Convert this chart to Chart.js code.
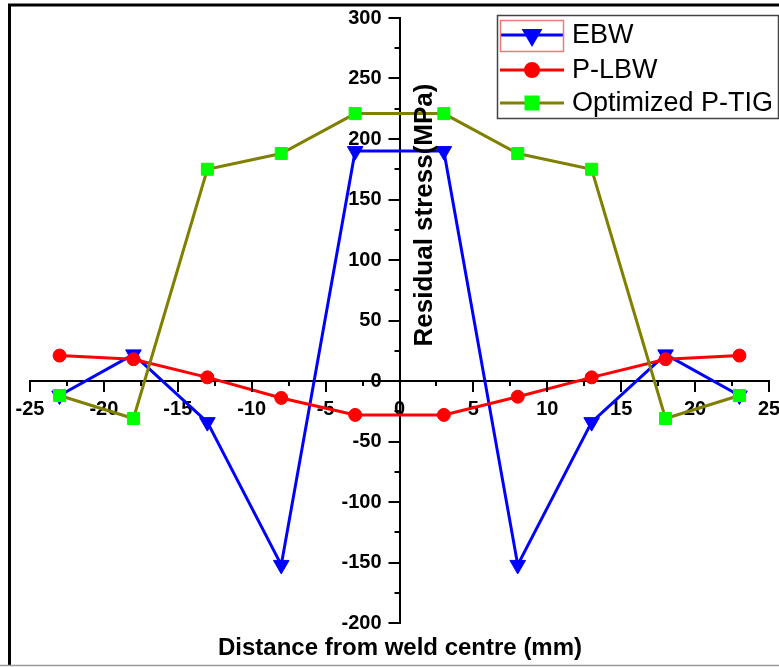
<!DOCTYPE html>
<html>
<head>
<meta charset="utf-8">
<title>Residual stress</title>
<script src="https://cdn.jsdelivr.net/npm/chart.js@4.4.1/dist/chart.umd.min.js"></script>
<style>
  html, body { margin: 0; padding: 0; background: #fff; overflow: hidden; }
  #wrap { position: absolute; left: 0; top: 0; width: 779px; height: 667px; }
</style>
</head>
<body>
<div id="wrap"><canvas id="stressChart" width="779" height="667"></canvas></div>
<script>
// distance from weld centre (mm)
const distances = [-23, -18, -13, -8, -3, 3, 8, 13, 18, 23];

// residual stress (MPa)
const ebwStress = [-12, 22, -34, -152, 190, 190, -152, -34, 22, -12];
const plbwStress = [21, 18, 3, -14, -28, -28, -13, 3, 18, 21];
const ptigStress = [-12, -31, 175, 188, 221, 221, 188, 175, -31, -12];

const seriesNames = ["EBW", "P-LBW", "Optimized P-TIG"];
const xTitle = "Distance from weld centre (mm)";
const yTitle = "Residual stress(MPa)";

function toPoints(values) {
  return distances.map((d, i) => ({ x: d, y: values[i] }));
}

const fontFamily = "'Liberation Sans', Arial, sans-serif";

// cadre, titres, graduations et légende
const decorPlugin = {
  id: "decor",
  afterDraw(chart) {
    const ctx = chart.ctx;
    const xs = chart.scales.x;
    const ys = chart.scales.y;
    const x0 = xs.getPixelForValue(0);
    const y0 = ys.getPixelForValue(0);

    ctx.save();

    // graduations de l'axe x (majeures 5, mineures 2.5)
    ctx.strokeStyle = "#000";
    ctx.lineWidth = 2;
    for (let v = xs.min; v <= xs.max + 0.01; v += 2.5) {
      const px = Math.round(xs.getPixelForValue(v));
      const len = v % 5 === 0 ? 11 : 5;
      ctx.beginPath();
      ctx.moveTo(px, y0);
      ctx.lineTo(px, y0 + len);
      ctx.stroke();
    }
    // graduations de l'axe y (majeures 50, mineures 25)
    for (let v = ys.min; v <= ys.max + 0.01; v += 25) {
      const py = Math.round(ys.getPixelForValue(v));
      const len = v % 50 === 0 ? 11 : 5;
      ctx.beginPath();
      ctx.moveTo(x0, py);
      ctx.lineTo(x0 - len, py);
      ctx.stroke();
    }

    // étiquettes de l'axe y, à gauche de l'axe central
    ctx.fillStyle = "#000";
    ctx.textAlign = "right";
    ctx.textBaseline = "middle";
    ctx.font = "bold 20px " + fontFamily;
    ys.ticks.forEach((t) => {
      ctx.fillText(String(t.value), x0 - 18, ys.getPixelForValue(t.value));
    });

    // titres des axes
    ctx.textAlign = "center";
    ctx.font = "bold 24px " + fontFamily;
    ctx.fillText(xTitle, 400, 648);
    ctx.save();
    ctx.translate(425, 215);
    ctx.rotate(-Math.PI / 2);
    ctx.font = "bold 26px " + fontFamily;
    ctx.fillText(yTitle, 0, 0);
    ctx.restore();

    // légende
    ctx.strokeStyle = "#444";
    ctx.lineWidth = 1.5;
    ctx.strokeRect(497.5, 15.5, 281, 103);
    const rows = [35, 70, 103];
    chart.data.datasets.forEach((ds, i) => {
      const y = rows[i];
      ctx.strokeStyle = ds.borderColor;
      ctx.lineWidth = 3;
      ctx.beginPath();
      ctx.moveTo(500, y);
      ctx.lineTo(564, y);
      ctx.stroke();
      ctx.fillStyle = ds.pointBackgroundColor;
      ctx.strokeStyle = ds.pointBorderColor;
      Chart.helpers.drawPoint(ctx, {
        pointStyle: ds.pointStyle,
        radius: ds.pointRadius,
        rotation: ds.pointRotation || 0,
        borderWidth: 1
      }, 532, y);
      ctx.fillStyle = "#000";
      ctx.textAlign = "left";
      ctx.textBaseline = "middle";
      ctx.font = "27px " + fontFamily;
      ctx.fillText(ds.label, 572, y + 1);
    });
    // cadre de sélection autour du premier symbole
    ctx.strokeStyle = "#f07878";
    ctx.lineWidth = 1.5;
    ctx.strokeRect(500.5, 20.5, 63, 31);

    // cadre extérieur
    ctx.strokeStyle = "#000";
    ctx.lineWidth = 3;
    ctx.beginPath();
    ctx.moveTo(9.5, 665);
    ctx.lineTo(9.5, 5);
    ctx.lineTo(779, 5);
    ctx.stroke();
    ctx.strokeStyle = "#999";
    ctx.lineWidth = 1.5;
    ctx.beginPath();
    ctx.moveTo(0, 665.5);
    ctx.lineTo(779, 665.5);
    ctx.stroke();

    ctx.restore();
  }
};

const ctx = document.getElementById("stressChart").getContext("2d");
const stressChart = new Chart(ctx, {
  type: "line",
  data: {
    datasets: [
      {
        label: seriesNames[0],
        data: toPoints(ebwStress),
        borderColor: "#0000ff",
        borderWidth: 3,
        pointStyle: "triangle",
        pointRotation: 180,
        pointRadius: 9,
        pointBackgroundColor: "#0000ff",
        pointBorderColor: "#0000ff",
        pointBorderWidth: 1,
        tension: 0,
        order: 3,
      },
      {
        label: seriesNames[1],
        data: toPoints(plbwStress),
        borderColor: "#ff0000",
        borderWidth: 3,
        pointStyle: "circle",
        pointRadius: 6.5,
        pointBackgroundColor: "#ff0000",
        pointBorderColor: "#ff0000",
        pointBorderWidth: 1,
        tension: 0,
        order: 2,
      },
      {
        label: seriesNames[2],
        data: toPoints(ptigStress),
        borderColor: "#808000",
        borderWidth: 3,
        pointStyle: "rect",
        pointRadius: 8.5,
        pointBackgroundColor: "#00ff00",
        pointBorderColor: "#00ff00",
        pointBorderWidth: 1,
        tension: 0,
        order: 1,
      },
    ],
  },
  options: {
    responsive: false,
    animation: false,
    devicePixelRatio: 1,
    layout: {
      padding: { left: 30, right: 9, top: 18, bottom: 44 },
    },
    plugins: {
      legend: { display: false },
      tooltip: { enabled: false },
    },
    scales: {
      x: {
        type: "linear",
        position: { y: 0 },
        min: -25,
        max: 25,
        grid: { display: false, drawTicks: false },
        border: { display: true, color: "#000", width: 2 },
        ticks: {
          stepSize: 5,
          padding: 16,
          color: "#000",
          font: { family: fontFamily, size: 20, weight: "bold" },
          maxRotation: 0,
        },
        // les étiquettes en bout d'axe ne doivent pas réduire la zone du graphique
        afterFit(scale) {
          scale.paddingLeft = 0;
          scale.paddingRight = 0;
        },
      },
      y: {
        type: "linear",
        position: { x: 0 },
        min: -200,
        max: 300,
        grid: { display: false, drawTicks: false },
        border: { display: true, color: "#000", width: 2 },
        ticks: {
          stepSize: 50,
          display: false,
        },
      },
    },
  },
  plugins: [decorPlugin],
});
</script>
</body>
</html>
